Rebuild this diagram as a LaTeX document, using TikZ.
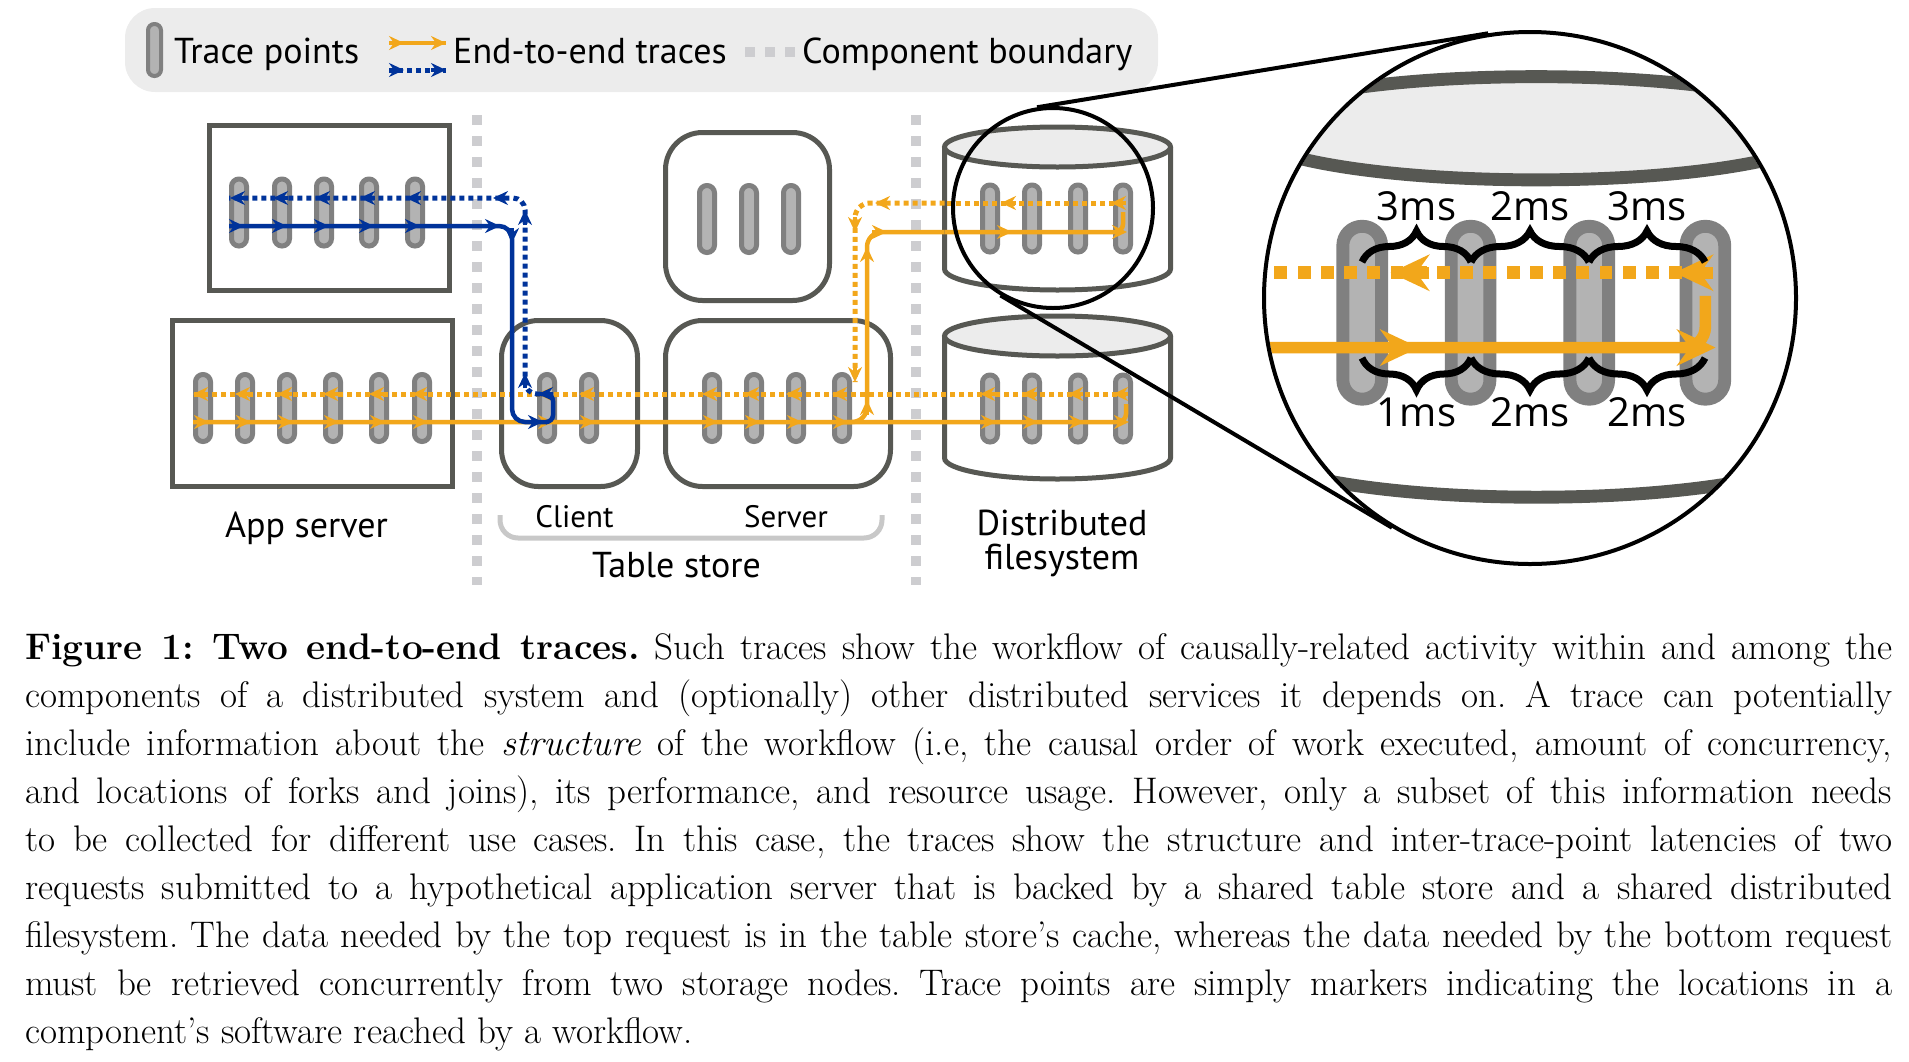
\documentclass[tikz,border=0pt]{standalone}
\usepackage{fontspec}
\newfontfamily\diagfont{PT Sans}
\newfontfamily\msfont{Open Sans}
\usepackage{xcolor}
\usetikzlibrary{arrows.meta, calc, decorations.pathreplacing}
\definecolor{tblue}{HTML}{00339A}
\definecolor{torange}{HTML}{F2A71B}
\definecolor{tpline}{HTML}{808080}
\definecolor{tpfill}{HTML}{B3B3B3}
\definecolor{boxline}{HTML}{575853}
\definecolor{legendbg}{HTML}{ECECEC}
\definecolor{boundarygray}{HTML}{CDCDD0}
\definecolor{bracketgray}{HTML}{C8C8C8}
\tikzstyle{tracepoint} = [rectangle, rounded corners=7.4pt, minimum width=15pt, minimum height=67pt, inner sep=0pt, draw=tpline, fill=tpfill, line width=5pt]
\tikzstyle{hostbox} = [rectangle, draw=boxline, line width=5pt, fill=white, inner sep=0pt]
\tikzstyle{tierbox} = [hostbox, rounded corners=37pt]
\tikzstyle{boundary} = [draw=boundarygray, line width=10pt, dash pattern=on 10pt off 11pt]
\tikzstyle{bluesolid} = [draw=tblue, line width=4.5pt]
\tikzstyle{bluedash} = [draw=tblue, line width=5pt, dash pattern=on 5pt off 4pt]
\tikzstyle{orangesolid} = [draw=torange, line width=4.5pt]
\tikzstyle{orangedash} = [draw=torange, line width=5pt, dash pattern=on 5pt off 4pt]
\tikzstyle{head} = [solid, -{Stealth[length=15pt,width=14pt,inset=5pt]}]
\tikzstyle{boxlabel} = [font=\diagfont\fontsize{36}{34}\selectfont, inner sep=0pt]
\tikzstyle{mslabel} = [font=\msfont\fontsize{40}{40}\selectfont, inner sep=0pt]
% disk body, #1 = y of the top ellipse
\newcommand{\diskbody}[1]{%
  \filldraw[draw=boxline, line width=5pt, fill=white] (944.5,#1) -- ++(0,122)
    .. controls +(0,11.6) and +(-62.4,0) .. ++(113,21)
    .. controls +(62.4,0) and +(0,11.6) .. ++(113,-21) -- ++(0,-122);
  \filldraw[draw=boxline, line width=5pt, fill=legendbg] (1057.5,#1) ellipse[x radius=113pt, y radius=20pt];}
% upper storage node with its part of the bottom request
\newcommand{\topdisk}{%
  \diskbody{147}
  \foreach \x [count=\i] in {990,1032,1078,1123}
    \node[tracepoint] (f\i) at (\x,218.5) {};
  \coordinate (fin) at (944.5,232);
  \coordinate (fout) at (944.5,203);
  \draw[orangesolid, rounded corners=8pt] (fin) -- (f4 |- fin) -- ($(f4 |- fout)+(0,9)$);
  \draw[orangedash] (f4 |- fout) -- (fout);
  \draw[orangesolid, head] ($(f1 |- fin)+(7,0)$) -- ++(15,0);
  \draw[orangesolid, head] ($(f4 |- fin)+(-11,0)$) -- ++(15,0);
  \draw[orangesolid, head] ($(f4 |- fout)+(3,0)$) -- ++(-15,0);
  \draw[orangesolid, head] ($(f1 |- fout)+(26,0)$) -- ++(-15,0);}
\begin{document}
\begin{tikzpicture}[x=1pt, y=-1pt]
  \useasboundingbox (0,0) rectangle (1909,1061);
  % legend
  \node[fill=legendbg, rounded corners=30pt, minimum width=1033pt, minimum height=84pt, inner sep=0pt] (legend) at (641.5,50) {};
  \node[tracepoint, line width=4pt, minimum width=13pt, minimum height=52pt, rounded corners=6.4pt] (legtp) at (154.5,50) {};
  \node[boxlabel, anchor=base west] (legtptext) at (174,63) {Trace points};
  \draw[orangesolid] (389,43) -- (446,43);
  \draw[orangesolid, head] (389,43) -- (404,43);
  \draw[orangesolid, head] (431,43) -- (446,43);
  \draw[bluedash] (389,70) -- (446,70);
  \draw[bluesolid, head] (389,70) -- (404,70);
  \draw[bluesolid, head] (431,70) -- (446,70);
  \node[boxlabel, anchor=base west] (legtracetext) at (453,63) {End-to-end traces};
  \draw[boundary, dash pattern=on 10pt off 10pt] (745,52) -- (795,52);
  \node[boxlabel, anchor=base west] (legboundtext) at (802,63) {Component boundary};

  % component boundaries
  \draw[boundary] (477,115) -- (477,585);
  \draw[boundary] (916,115) -- (916,585);

  % components
  \node[hostbox, minimum width=240pt, minimum height=165pt] (apptop) at (329.5,208) {};
  \node[hostbox, minimum width=280pt, minimum height=166pt] (appbottom) at (312.5,403.5) {};
  \node[tierbox, minimum width=136pt, minimum height=166pt] (client) at (569.5,403.5) {};
  \node[tierbox, minimum width=225pt, minimum height=166pt] (server) at (778,403.5) {};
  \node[tierbox, minimum width=164pt, minimum height=168pt] (cache) at (747.5,216.5) {};
  \diskbody{336}
  \topdisk

  % trace points
  \foreach \x [count=\i] in {239,282,324,369,415}
    \node[tracepoint] (a\i) at (\x,212.5) {};
  \foreach \x [count=\i] in {203,245,287,333,379,422}
    \node[tracepoint] (b\i) at (\x,408) {};
  \foreach \x [count=\i] in {547,589}
    \node[tracepoint] (c\i) at (\x,408) {};
  \foreach \x [count=\i] in {712,754,796,842}
    \node[tracepoint] (s\i) at (\x,408) {};
  \foreach \x [count=\i] in {707,749,791}
    \node[tracepoint] (k\i) at (\x,219) {};
  \foreach \x [count=\i] in {990,1032,1078,1123}
    \node[tracepoint] (g\i) at (\x,408.5) {};

  \coordinate (bd) at (0,198);
  \coordinate (bs) at (0,226);
  \coordinate (od) at (0,394);
  \coordinate (os) at (0,422);

  % bottom request (orange)
  \draw[orangesolid, rounded corners=8pt] (b1.west |- os) -- ($(g4 |- os)+(3,0)$) -- ($(g4 |- od)+(3,10)$);
  \draw[orangedash] ($(g4 |- od)+(3,0)$) -- (b1.west |- od);
  \draw[orangesolid, rounded corners=15pt] (s4 |- os) -- (867,422) -- (867,232) -- (fin);
  \draw[orangedash, rounded corners=15pt] (fout) -- (855,203) -- (855,382);
  \foreach \n in {b1,b2,b3,b4,b5,b6,c1,c2,s1,s2,s3,s4,g1,g2,g3,g4} {
    \draw[orangesolid, head] ($(\n |- os)+(-9,0)$) -- ++(15,0);
    \draw[orangesolid, head] ($(\n |- od)+(5,0)$) -- ++(-15,0);
  }
  \draw[orangesolid, head] (867,415) -- (867,400);
  \draw[orangesolid, head] (867,262) -- (867,247);
  \draw[orangesolid, head] (872,232) -- (887,232);
  \draw[orangesolid, head] (890,203) -- (875,203);
  \draw[orangesolid, head] (855,217) -- (855,232);
  \draw[orangesolid, head] (855,367) -- (855,382);

  % top request (blue)
  \draw[bluesolid, rounded corners=13pt] (a1.west |- bs) -- (512,226) -- (512,422) -- (c1 |- os);
  \draw[bluesolid, rounded corners=7pt] (c1 |- os) -- (553,422) -- (553,394) -- (540,394);
  \draw[bluedash, rounded corners=12pt] (540,394) -- (525,394) -- (525,198) -- (a1.west |- bd);
  \foreach \n in {a1,a2,a3,a4,a5} {
    \draw[bluesolid, head] ($(\n |- bs)+(-10,0)$) -- ++(15,0);
    \draw[bluesolid, head] ($(\n |- bd)+(6,0)$) -- ++(-15,0);
  }
  \draw[bluesolid, head] (485,226) -- (500,226);
  \draw[bluesolid, head] (512,228) -- (512,243);
  \draw[bluesolid, head] ($(c1 |- os)+(-19,0)$) -- ++(15,0);
  \draw[bluesolid, head] (553,394) -- (538,394);
  \draw[bluesolid, head] (525,388) -- (525,373);
  \draw[bluesolid, head] (525,225) -- (525,210);
  \draw[bluesolid, head] (508,198) -- (493,198);

  % magnified view
  \begin{scope}
    \clip (1530,298) circle[radius=264pt];
    \fill[white] (1530,298) circle[radius=264pt];
    \begin{scope}[transform canvas={shift={(-1192,-251)}, scale=2.58}]
      \topdisk
    \end{scope}
  \end{scope}
  \node[circle, draw=black, line width=4pt, minimum size=532pt, inner sep=0pt] (zoom) at (1530,298) {};
  \node[circle, draw=black, line width=4pt, minimum size=200pt, inner sep=0pt] (lens) at (1053,208) {};
  \draw[line width=4pt] (lens.99.5) -- (zoom.99.5);
  \draw[line width=4pt] (lens.239.4) -- (zoom.239.4);
  \foreach \l/\r/\t in {1362/1471/3ms, 1471/1589/2ms, 1589/1705/3ms}
    \draw[line width=7pt, decorate, decoration={brace, amplitude=31pt}] (\l,262) -- node[mslabel, anchor=base, yshift=42pt] {\t} (\r,262);
  \foreach \l/\r/\t in {1362/1471/1ms, 1471/1589/2ms, 1589/1705/2ms}
    \draw[line width=7pt, decorate, decoration={brace, mirror, amplitude=32pt}] (\l,358) -- node[mslabel, anchor=base, yshift=-68pt] {\t} (\r,358);

  % labels
  \node[boxlabel, anchor=base] (applabel) at (306.5,537) {App server};
  \node[boxlabel, font=\diagfont\fontsize{31}{31}\selectfont, anchor=base] (clientlabel) at (574.5,527) {Client};
  \node[boxlabel, font=\diagfont\fontsize{31}{31}\selectfont, anchor=base] (serverlabel) at (786,527) {Server};
  \draw[draw=bracketgray, line width=5pt, rounded corners=18pt] (500,515) -- (500,538) -- (882,538) -- (882,515);
  \node[boxlabel, anchor=base] (tablelabel) at (676.5,577) {Table store};
  \node[boxlabel, align=center, anchor=base] (fslabel) at (1062,569) {Distributed\\filesystem};

  % caption
  \node[anchor=north west, inner sep=0pt, text width=1867pt, align=justify, font=\fontsize{37}{48}\selectfont\frenchspacing] (caption) at (25,625.4) {\strut\textbf{Figure 1: Two end-to-end traces.}\ Such traces show the workflow of causally-related activity within and among the\linebreak
  components of a distributed system and (optionally) other distributed services it depends on. A trace can potentially\linebreak
  include information about the \textit{structure} of the workflow (i.e, the causal order of work executed, amount of concurrency,\linebreak
  and locations of forks and joins), its performance, and resource usage. However, only a subset of this information needs\linebreak
  to be collected for different use cases. In this case, the traces show the structure and inter-trace-point latencies of two\linebreak
  requests submitted to a hypothetical application server that is backed by a shared table store and a shared distributed\linebreak
  filesystem. The data needed by the top request is in the table store’s cache, whereas the data needed by the bottom request\linebreak
  must be retrieved concurrently from two storage nodes. Trace points are simply markers indicating the locations in a\linebreak
  component’s software reached by a workflow.};
\end{tikzpicture}
\end{document}
